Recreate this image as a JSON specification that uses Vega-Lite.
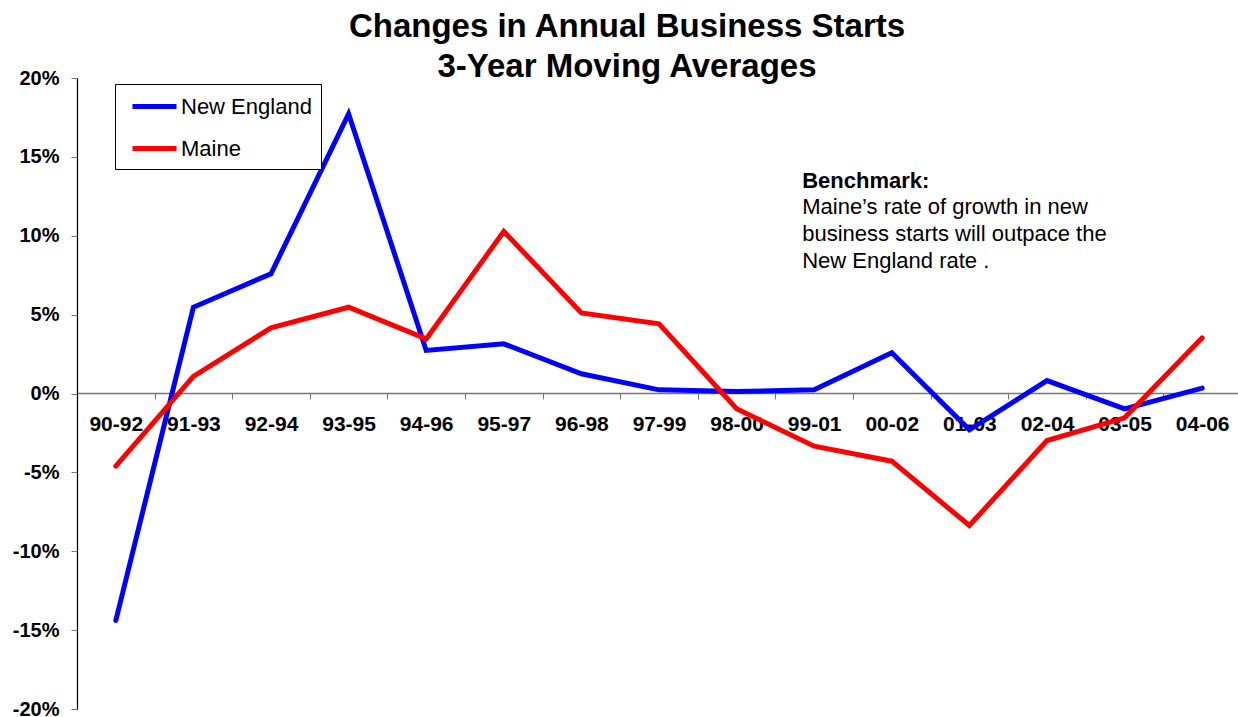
{
  "$schema": "https://vega.github.io/schema/vega-lite/v6.json",
  "autosize": {"type": "none"},
  "width": 1164,
  "height": 631,
  "padding": {"left": 77, "top": 78, "right": 0, "bottom": 8},
  "background": "white",
  "title": {
    "text": ["Changes in Annual Business Starts", "3-Year Moving Averages"],
    "font": "Liberation Sans",
    "fontSize": 33,
    "fontWeight": "bold",
    "color": "black",
    "anchor": "middle",
    "dx": -32,
    "lineHeight": 40,
    "offset": -16
  },
  "config": {
    "view": {"stroke": null},
    "font": "Liberation Sans"
  },
  "data": {
    "values": [
      {"period": "90-92", "region": "New England", "change": -14.39},
      {"period": "91-93", "region": "New England", "change": 5.47},
      {"period": "92-94", "region": "New England", "change": 7.59},
      {"period": "93-95", "region": "New England", "change": 17.73},
      {"period": "94-96", "region": "New England", "change": 2.73},
      {"period": "95-97", "region": "New England", "change": 3.15},
      {"period": "96-98", "region": "New England", "change": 1.25},
      {"period": "97-99", "region": "New England", "change": 0.23},
      {"period": "98-00", "region": "New England", "change": 0.13},
      {"period": "99-01", "region": "New England", "change": 0.23},
      {"period": "00-02", "region": "New England", "change": 2.58},
      {"period": "01-03", "region": "New England", "change": -2.3},
      {"period": "02-04", "region": "New England", "change": 0.82},
      {"period": "03-05", "region": "New England", "change": -0.97},
      {"period": "04-06", "region": "New England", "change": 0.34},
      {"period": "90-92", "region": "Maine", "change": -4.61},
      {"period": "91-93", "region": "Maine", "change": 1.08},
      {"period": "92-94", "region": "Maine", "change": 4.16},
      {"period": "93-95", "region": "Maine", "change": 5.47},
      {"period": "94-96", "region": "Maine", "change": 3.46},
      {"period": "95-97", "region": "Maine", "change": 10.27},
      {"period": "96-98", "region": "Maine", "change": 5.11},
      {"period": "97-99", "region": "Maine", "change": 4.42},
      {"period": "98-00", "region": "Maine", "change": -0.97},
      {"period": "99-01", "region": "Maine", "change": -3.34},
      {"period": "00-02", "region": "Maine", "change": -4.29},
      {"period": "01-03", "region": "Maine", "change": -8.37},
      {"period": "02-04", "region": "Maine", "change": -2.98},
      {"period": "03-05", "region": "Maine", "change": -1.54},
      {"period": "04-06", "region": "Maine", "change": 3.53}
    ]
  },
  "encoding": {
    "x": {
      "field": "period",
      "type": "ordinal",
      "sort": null,
      "scale": {"paddingInner": 0, "paddingOuter": 0},
      "axis": {
        "title": null,
        "orient": "bottom",
        "offset": -316,
        "tickBand": "extent",
        "labelAngle": 0,
        "labelFont": "Liberation Sans",
        "labelFontSize": 21,
        "labelFontWeight": "bold",
        "labelColor": "black",
        "labelPadding": 14,
        "domainColor": "#777777",
        "domainWidth": 1.5,
        "tickColor": "#777777",
        "tickSize": 6,
        "tickWidth": 1,
        "grid": false
      }
    },
    "y": {
      "field": "change",
      "type": "quantitative",
      "scale": {"domain": [-20, 20], "nice": false, "zero": false},
      "axis": {
        "title": null,
        "values": [-20, -15, -10, -5, 0, 5, 10, 15, 20],
        "labelExpr": "datum.value + '%'",
        "labelFont": "Liberation Sans",
        "labelFontSize": 20,
        "labelFontWeight": "bold",
        "labelColor": "black",
        "labelPadding": 12,
        "domainColor": "black",
        "domainWidth": 1.2,
        "tickColor": "#777777",
        "tickSize": 6,
        "grid": false
      }
    },
    "color": {
      "field": "region",
      "type": "nominal",
      "scale": {"domain": ["New England", "Maine"], "range": ["#0000FF", "#FF0000"]},
      "legend": {
        "title": null,
        "orient": "none",
        "legendX": 38,
        "legendY": 6,
        "strokeColor": "black",
        "fillColor": "white",
        "padding": 9,
        "symbolType": "M-2,0H2",
        "symbolSize": 484,
        "symbolStrokeWidth": 5,
        "symbolOffset": 17,
        "labelOffset": 13,
        "rowPadding": 17,
        "labelFont": "Liberation Sans",
        "labelFontSize": 22,
        "labelColor": "black"
      }
    }
  },
  "layer": [
    {
      "transform": [{"filter": "datum.region === 'New England'"}],
      "mark": {"type": "line", "strokeWidth": 5, "strokeCap": "round", "strokeJoin": "miter"}
    },
    {
      "transform": [{"filter": "datum.region === 'Maine'"}],
      "mark": {"type": "line", "strokeWidth": 5, "strokeCap": "round", "strokeJoin": "miter"}
    },
    {
      "transform": [{"filter": "datum.region === 'New England' && datum.period === '90-92'"}],
      "mark": {"type": "text", "text": "Benchmark:", "align": "left", "baseline": "alphabetic", "dx": -12, "font": "Liberation Sans", "fontSize": 22, "fontWeight": "bold"},
      "encoding": {
        "x": {"datum": "99-01"},
        "y": {"datum": 13},
        "color": {"value": "black"}
      }
    },
    {
      "transform": [{"filter": "datum.region === 'New England' && datum.period === '90-92'"}],
      "mark": {"type": "text", "text": ["Maine\u2019s rate of growth in new", "business starts will outpace the", "New England rate ."], "align": "left", "baseline": "alphabetic", "dx": -12, "dy": 26, "lineHeight": 27, "font": "Liberation Sans", "fontSize": 22},
      "encoding": {
        "x": {"datum": "99-01"},
        "y": {"datum": 13},
        "color": {"value": "black"}
      }
    }
  ]
}
